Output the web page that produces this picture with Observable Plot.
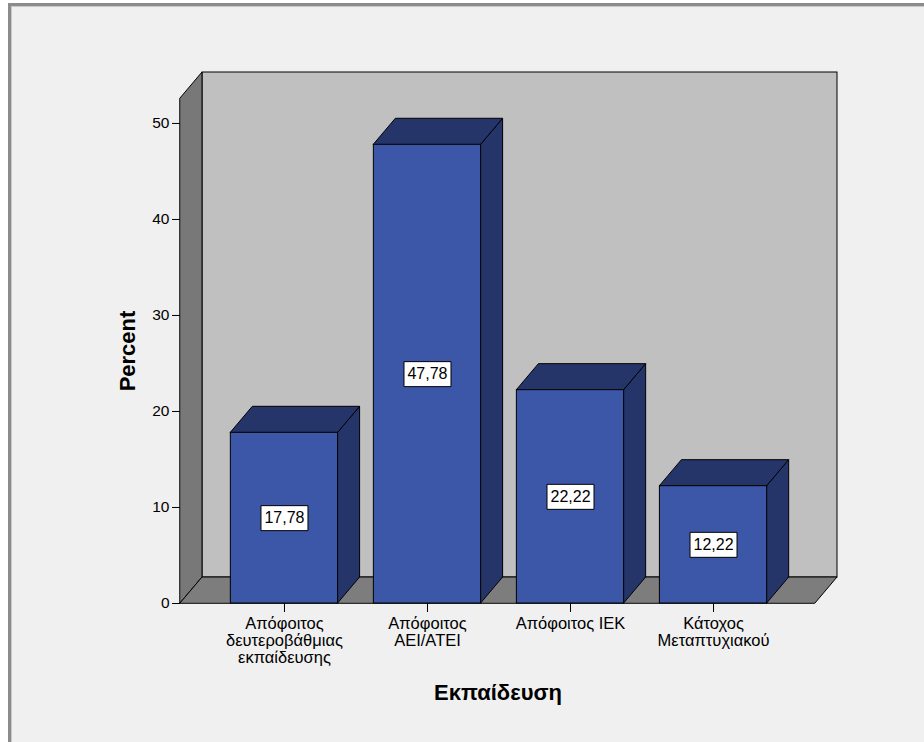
<!DOCTYPE html>
<html>
<head>
<meta charset="utf-8">
<script src="https://cdn.jsdelivr.net/npm/d3@7"></script>
<script src="https://cdn.jsdelivr.net/npm/@observablehq/plot@0.6"></script>
<style>
  html, body { margin: 0; padding: 0; background: #ffffff; }
  #frame {
    position: absolute; left: 8px; top: 3px; width: 960px; height: 780px;
    background: #f0f0f0; box-sizing: border-box;
    border-left: 3px solid #8c8c8c; border-top: 3px solid #8c8c8c;
    box-shadow: inset 1px 1px 0 #c8c8c8;
  }
  #chart { position: absolute; left: 0; top: 0; }
</style>
</head>
<body>
<div id="frame"></div>
<div id="chart"></div>
<script>
// Education level of respondents (percent)
const categories = [
  "Απόφοιτος\nδευτεροβάθμιας\nεκπαίδευσης",
  "Απόφοιτος\nΑΕΙ/ΑΤΕΙ",
  "Απόφοιτος ΙΕΚ",
  "Κάτοχος\nΜεταπτυχιακού"
];
const percents = [17.78, 47.78, 22.22, 12.22];
const yTicks = [0, 10, 20, 30, 40, 50];
const yLabel = "Percent";
const xLabel = "Εκπαίδευση";

// Layout
const W = 924, H = 742;
const mLeft = 180, mRight = 109, mTop = 98, mBottom = 139;
const xDomain = [-0.727, 3.713];
const yDomain = [0, 52.6];
const pxPerX = (W - mLeft - mRight) / (xDomain[1] - xDomain[0]);
const pxPerY = (H - mTop - mBottom) / (yDomain[1] - yDomain[0]);
// 3-D depth offset (22px right, 26px up) expressed in scale units
const depthX = 22 / pxPerX;
const depthY = 26 / pxPerY;
const half = 0.375; // half bar width in band units

const font = "'Liberation Sans', Arial, sans-serif";
const fmt = v => d3.format(".2f")(v).replace(".", ",");

const bars = percents.map((v, i) => ({i, v, y0: 0, x1: i - half, x2: i + half}));
const sides = bars.flatMap(d => [
  {i: d.i, x: d.i + half, y1: 0, y2: d.v},
  {i: d.i, x: d.i + half + depthX, y1: depthY, y2: d.v + depthY}
]);
const tops = bars.flatMap(d => [
  {i: d.i, y: d.v, x1: d.i - half, x2: d.i + half},
  {i: d.i, y: d.v + depthY, x1: d.i - half + depthX, x2: d.i + half + depthX}
]);

const [xa, xb] = xDomain;
const [ya, yb] = yDomain;
const backWall = [{x1: xa + depthX, x2: xb + depthX, y1: ya + depthY, y2: yb + depthY}];
const leftWall = [
  {x: xa, y1: ya, y2: yb},
  {x: xa + depthX, y1: ya + depthY, y2: yb + depthY}
];
const floor = [
  {y: ya, x1: xa, x2: xb},
  {y: ya + depthY, x1: xa + depthX, x2: xb + depthX}
];

// Label box drawn around each value
const labelBox = {draw(ctx) { ctx.rect(-23.5, -12.5, 47, 25); }};

const frontColor = "#3c57a8";
const darkColor = "#25356a";

const chart = Plot.plot({
  width: W,
  height: H,
  marginLeft: mLeft,
  marginRight: mRight,
  marginTop: mTop,
  marginBottom: mBottom,
  x: {type: "linear", domain: xDomain, nice: false},
  y: {type: "linear", domain: yDomain, nice: false},
  style: {fontFamily: font, background: "transparent", overflow: "visible", color: "#000"},
  marks: [
    Plot.rect(backWall, {x1: "x1", x2: "x2", y1: "y1", y2: "y2", fill: "#c0c0c0", stroke: "#000", strokeWidth: 1}),
    Plot.areaY(leftWall, {x: "x", y1: "y1", y2: "y2", fill: "#787878", stroke: "#000", strokeWidth: 1}),
    Plot.areaX(floor, {y: "y", x1: "x1", x2: "x2", fill: "#7d7d7d", stroke: "#000", strokeWidth: 1}),
    Plot.areaY(sides, {x: "x", y1: "y1", y2: "y2", z: "i", fill: darkColor, stroke: "#000", strokeWidth: 1}),
    Plot.areaX(tops, {y: "y", x1: "x1", x2: "x2", z: "i", fill: darkColor, stroke: "#000", strokeWidth: 1}),
    Plot.rect(bars, {x1: "x1", x2: "x2", y1: "y0", y2: "v", fill: frontColor, stroke: "#000", strokeWidth: 1}),
    Plot.dot(bars, {x: "i", y: d => d.v / 2, symbol: labelBox, fill: "#fff", stroke: "#000", strokeWidth: 1}),
    Plot.text(bars, {x: "i", y: d => d.v / 2, text: d => fmt(d.v), fontSize: 16, fill: "#000"}),
    Plot.axisY(yTicks, {tickSize: 8, tickPadding: 3, fontSize: 15.5, label: null}),
    Plot.axisX([0, 1, 2, 3], {tickFormat: i => categories[i], tickSize: 9, tickPadding: 4, fontSize: 16.5, lineHeight: 1.03, label: null}),
    Plot.text([yLabel], {frameAnchor: "left", dx: -53, rotate: -90, text: d => d, fontSize: 22, fontWeight: "bold", textAnchor: "middle", lineAnchor: "middle", fill: "#000"}),
    Plot.text([xLabel], {frameAnchor: "bottom", dy: 89, text: d => d, fontSize: 22, fontWeight: "bold", textAnchor: "middle", lineAnchor: "middle", fill: "#000"})
  ]
});

document.getElementById("chart").append(chart);
</script>
</body>
</html>
